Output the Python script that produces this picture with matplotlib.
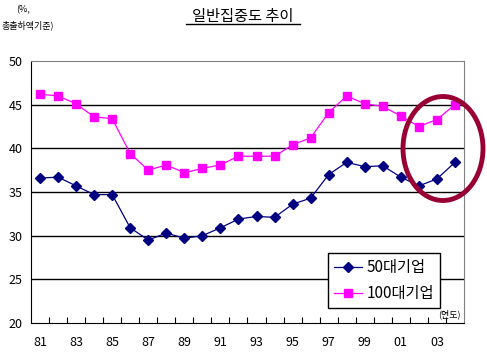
import matplotlib.pyplot as plt
from matplotlib.patches import Ellipse

plt.rcParams['font.family'] = ['Noto Sans CJK KR', 'DejaVu Sans']

years = ['81', '82', '83', '84', '85', '86', '87', '88', '89', '90', '91', '92',
         '93', '94', '95', '96', '97', '98', '99', '00', '01', '02', '03', '04']
top50 = [36.6, 36.7, 35.7, 34.7, 34.7, 30.9, 29.5, 30.3, 29.7, 30.0, 30.9, 31.9,
         32.2, 32.1, 33.6, 34.3, 37.0, 38.4, 37.9, 38.0, 36.7, 35.7, 36.5, 38.4]
top100 = [46.2, 46.0, 45.1, 43.6, 43.4, 39.4, 37.5, 38.1, 37.2, 37.7, 38.1, 39.1,
          39.1, 39.1, 40.4, 41.2, 44.1, 46.0, 45.1, 44.8, 43.7, 42.5, 43.3, 45.0]

fig = plt.figure(figsize=(4.87, 3.56), dpi=100)
ax = fig.add_axes([31 / 487, 1 - 323 / 356, 433 / 487, 262 / 356])

x = list(range(len(years)))
ax.plot(x, top50, color='#000080', lw=0.9, marker='D', ms=5.5, label='50대기업')
ax.plot(x, top100, color='#FF00FF', lw=0.9, marker='s', ms=6, label='100대기업')

ax.set_xlim(-0.5, 23.5)
ax.set_ylim(20, 50)
ax.set_yticks([20, 25, 30, 35, 40, 45, 50])
for v in [25, 30, 35, 40, 45]:
    ax.axhline(v, color='black', lw=1, zorder=0)

# label every second year, tick marks between categories
ax.set_xticks(x[::2])
ax.set_xticklabels(years[::2])
ax.set_xticks([i + 0.5 for i in range(23)], minor=True)
ax.tick_params(axis='x', which='major', length=0, labelsize=9, pad=9)
ax.tick_params(axis='x', which='minor', direction='in', length=4, width=0.8)
ax.tick_params(axis='y', length=0, labelsize=9, pad=6)

for s in ['left', 'bottom']:
    ax.spines[s].set_color('black')
for s in ['top', 'right']:
    ax.spines[s].set_color('#808080')

leg = ax.legend(loc='upper right', bbox_to_anchor=((440 - 31) / 433, (323 - 253) / 262),
                fontsize=11, frameon=True, fancybox=False, edgecolor='black',
                framealpha=1, handlelength=1.8, borderpad=0.4, labelspacing=0.6,
                handletextpad=0.3, borderaxespad=0)
leg.get_frame().set_linewidth(1)

ell = Ellipse((443, 356 - 148.5), 80, 104, transform=None, fill=False,
              edgecolor='#990033', lw=3.5, zorder=5)
fig.add_artist(ell)

fig.text(243 / 487, 1 - 16 / 356, '일반집중도 추이', ha='center', va='center', fontsize=11)
fig.add_artist(plt.Line2D([186 / 487, 300 / 487], [1 - 24 / 356, 1 - 24 / 356],
                          color='black', lw=1))
fig.text(16 / 487, 1 - 10 / 356, '(%,', fontsize=6.5, va='center')
fig.text(2 / 487, 1 - 25 / 356, '총출하액기준)', fontsize=6.5, va='center')
fig.text(449 / 487, 1 - 314 / 356, '(연도)', fontsize=6.5, ha='center', va='center')

fig.savefig('out.png', dpi=100)
